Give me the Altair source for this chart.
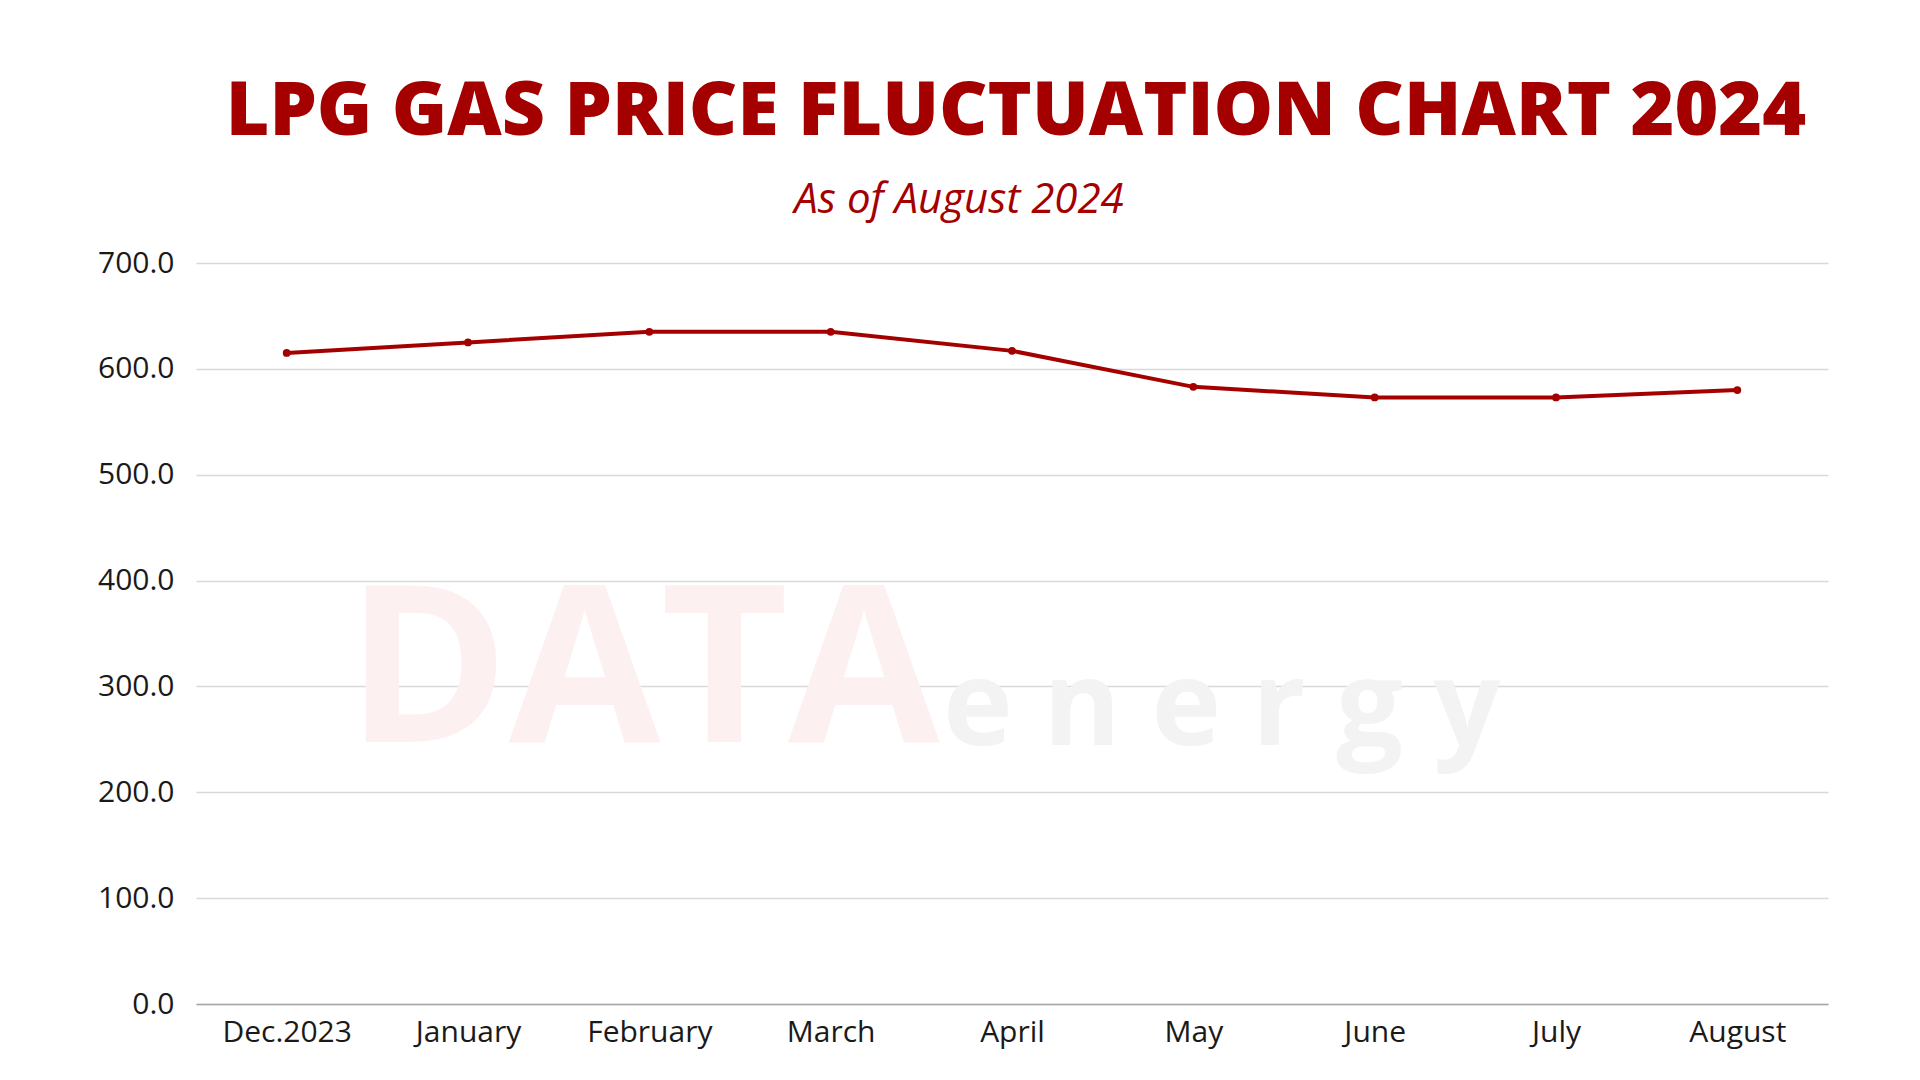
import altair as alt
import pandas as pd

months = ["Dec.2023", "January", "February", "March", "April", "May", "June", "July", "August"]
prices = [615.0, 625.0, 635.0, 635.0, 617.0, 583.0, 573.0, 573.0, 580.0]
y_ticks = [0, 100, 200, 300, 400, 500, 600, 700]

title_text = "LPG GAS PRICE FLUCTUATION CHART 2024"
subtitle_text = "As of August 2024"

RED = "#a50000"
FONT = "Open Sans"

df = pd.DataFrame({"month": months, "price": prices})

base = alt.Chart(df)

xenc = alt.X(
    "month:N",
    sort=months,
    scale=alt.Scale(type="point", padding=0.5),
    axis=alt.Axis(
        title=None, labelAngle=0, ticks=False, grid=False,
        domainColor="#a6a6a6", domainWidth=1.5,
        labelFont=FONT, labelFontSize=30, labelColor="#1a1a1a",
        labelPadding=13,
    ),
)
yenc = alt.Y(
    "price:Q",
    scale=alt.Scale(domain=[0, 700], nice=False, zero=True),
    axis=alt.Axis(
        title=None, values=y_ticks, format=".1f", ticks=False, domain=False,
        gridColor="#d9d9d9", gridWidth=1.5,
        labelFont=FONT, labelFontSize=30, labelColor="#1a1a1a",
        labelPadding=22,
    ),
)

wm = pd.DataFrame({"a": ["DATA"], "b": ["e n e r g y"]})
wm_data = alt.Chart(wm).mark_text(
    font=FONT, fontWeight="bold", fontSize=220, color="#fcf0f1",
    align="left", baseline="alphabetic",
).encode(text="a:N", x=alt.value(150), y=alt.value(479))
wm_energy = alt.Chart(wm).mark_text(
    font=FONT, fontWeight="bold", fontSize=118, color="#f3f3f3",
    align="left", baseline="alphabetic",
).encode(text="b:N", x=alt.value(747), y=alt.value(482))

line = base.mark_line(color=RED, strokeWidth=4).encode(x=xenc, y=yenc)
pts = base.mark_circle(color=RED, size=60, opacity=1).encode(x=xenc, y=yenc)

tt = pd.DataFrame({"t": [title_text], "s": [subtitle_text]})
title_mark = alt.Chart(tt).mark_text(
    font=FONT, fontWeight=800, fontSize=75, color=RED,
    align="center", baseline="alphabetic",
).encode(text="t:N", x=alt.value(820), y=alt.value(-128))
sub_mark = alt.Chart(tt).mark_text(
    font=FONT, fontStyle="italic", fontSize=42, color=RED,
    align="center", baseline="alphabetic",
).encode(text="s:N", x=alt.value(763), y=alt.value(-50))

chart = alt.layer(wm_data, wm_energy, line, pts, title_mark, sub_mark).properties(
    width=1632,
    height=741,
    autosize=alt.AutoSizeParams(type="none"),
    padding={"left": 188, "top": 255, "right": 84, "bottom": 68},
    background="white",
).configure_view(stroke=None)

chart.save("out.html", embed_options={"renderer": "svg", "actions": False})
